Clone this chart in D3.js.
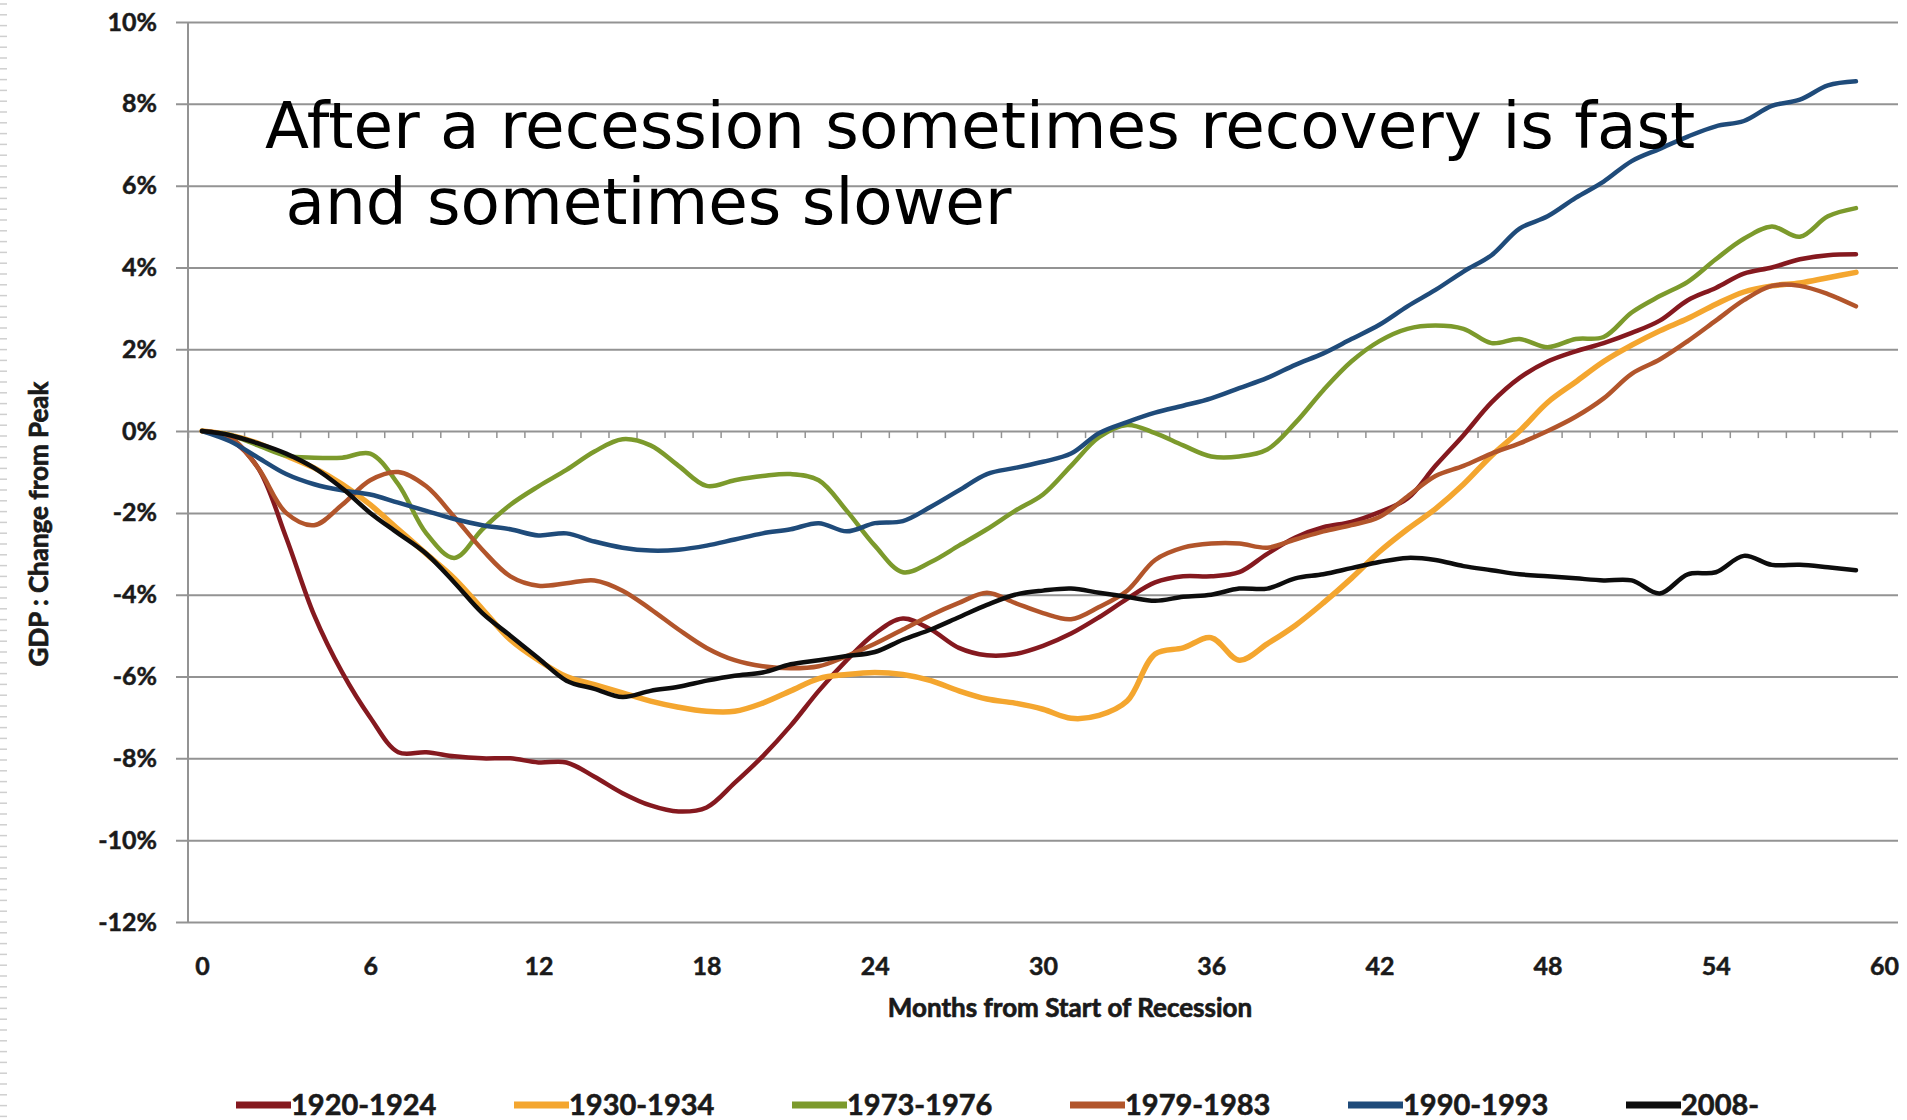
<!DOCTYPE html>
<html><head><meta charset="utf-8">
<script src="https://cdn.jsdelivr.net/npm/d3@7"></script>
<style>
body{margin:0;background:#fff;}
svg{display:block;}
</style></head><body>
<svg id="chart" width="1907" height="1120"></svg>
<script>
// ---------- DATA ----------
const months = d3.range(0, 60);
const seriesNames = ["1920-1924","1930-1934","1973-1976","1979-1983","1990-1993","2008-"];
const s1920 = [0,-0.2,-0.9,-2.6,-4.5,-5.9,-7.0,-7.85,-7.85,-7.95,
  -8.0,-8.0,-8.1,-8.1,-8.45,-8.85,-9.15,-9.3,-9.2,-8.6,
  -7.95,-7.2,-6.35,-5.6,-4.95,-4.58,-4.85,-5.3,-5.48,-5.45,
  -5.25,-4.95,-4.55,-4.1,-3.7,-3.55,-3.55,-3.45,-3.0,-2.6,
  -2.35,-2.22,-1.98,-1.65,-0.85,-0.1,0.7,1.3,1.7,1.95,
  2.15,2.4,2.7,3.2,3.5,3.85,4.0,4.2,4.3,4.32];
const s1930 = [0,-0.1,-0.3,-0.6,-0.9,-1.3,-1.8,-2.4,-3.0,-3.6,
  -4.35,-5.1,-5.6,-6.0,-6.2,-6.4,-6.6,-6.75,-6.85,-6.85,
  -6.65,-6.35,-6.05,-5.95,-5.9,-5.95,-6.1,-6.35,-6.55,-6.65,
  -6.8,-7.02,-6.95,-6.6,-5.45,-5.3,-5.05,-5.6,-5.2,-4.75,
  -4.2,-3.6,-2.95,-2.4,-1.9,-1.3,-0.6,0.0,0.7,1.2,
  1.7,2.1,2.45,2.75,3.1,3.4,3.55,3.62,3.75,3.88];
const s1973 = [0,-0.1,-0.35,-0.6,-0.65,-0.65,-0.55,-1.3,-2.5,-3.1,
  -2.4,-1.8,-1.35,-0.95,-0.5,-0.2,-0.35,-0.85,-1.34,-1.2,
  -1.1,-1.05,-1.2,-1.95,-2.8,-3.45,-3.2,-2.8,-2.4,-1.95,
  -1.55,-0.85,-0.15,0.15,-0.05,-0.35,-0.62,-0.62,-0.45,0.2,
  1.0,1.7,2.2,2.5,2.58,2.5,2.15,2.25,2.05,2.25,
  2.3,2.9,3.3,3.65,4.2,4.7,5.0,4.75,5.25,5.45];
const s1979 = [0,-0.15,-0.9,-2.0,-2.3,-1.8,-1.2,-1.0,-1.35,-2.1,
  -2.9,-3.55,-3.78,-3.72,-3.65,-3.9,-4.35,-4.85,-5.3,-5.6,
  -5.75,-5.8,-5.75,-5.5,-5.2,-4.85,-4.5,-4.2,-3.95,-4.2,
  -4.45,-4.6,-4.3,-3.9,-3.15,-2.85,-2.75,-2.75,-2.85,-2.65,
  -2.45,-2.3,-2.1,-1.6,-1.1,-0.85,-0.55,-0.3,0.0,0.35,
  0.8,1.4,1.75,2.2,2.7,3.2,3.55,3.55,3.35,3.05];
const s1990 = [0,-0.25,-0.65,-1.05,-1.3,-1.45,-1.55,-1.75,-1.95,-2.15,
  -2.3,-2.4,-2.55,-2.5,-2.7,-2.85,-2.92,-2.9,-2.8,-2.65,
  -2.5,-2.4,-2.25,-2.45,-2.25,-2.2,-1.85,-1.45,-1.05,-0.9,
  -0.75,-0.55,-0.05,0.22,0.45,0.62,0.8,1.05,1.3,1.62,
  1.9,2.25,2.6,3.05,3.45,3.9,4.3,4.95,5.25,5.7,
  6.1,6.6,6.9,7.2,7.45,7.58,7.95,8.1,8.45,8.55];
const s2008 = [0,-0.1,-0.3,-0.55,-0.9,-1.4,-2.0,-2.5,-3.0,-3.7,
  -4.45,-5.0,-5.55,-6.1,-6.3,-6.5,-6.35,-6.25,-6.1,-5.98,
  -5.9,-5.7,-5.6,-5.5,-5.4,-5.1,-4.85,-4.55,-4.25,-4.0,
  -3.9,-3.85,-3.95,-4.05,-4.15,-4.05,-4.0,-3.85,-3.85,-3.6,
  -3.5,-3.35,-3.2,-3.1,-3.15,-3.3,-3.4,-3.5,-3.55,-3.6,
  -3.65,-3.65,-3.97,-3.5,-3.45,-3.05,-3.27,-3.27,-3.33,-3.4];
const seriesValues = [s1920, s1930, s1973, s1979, s1990, s2008];
const seriesColors = ["#85191f","#f4a62f","#7c9a2c","#b2552b","#1f4b7a","#0d0d0d"];
const yTickValues = [-12,-10,-8,-6,-4,-2,0,2,4,6,8,10];
const xTickValues = [0,6,12,18,24,30,36,42,48,54,60];
const xTitle = "Months from Start of Recession";
const yTitle = "GDP : Change from Peak";
const noteLines = ["After a recession sometimes recovery is fast", " and sometimes slower"];

// ---------- LAYOUT ----------
const svg = d3.select("#chart");
const W = 1907, H = 1120;
const plotL = 188, plotR = 1898, plotT = 22, plotB = 922;
const x = d3.scaleLinear().domain([-0.5, 60.5]).range([plotL, plotR]);
const y = d3.scaleLinear().domain([-12, 10]).range([plotB, plotT]);
const FONT = "Lato, 'Open Sans', sans-serif";
const gridColor = "#939393";
const textColor = "#1a1a1a";

svg.append("rect").attr("width", W).attr("height", H).attr("fill", "#fff");

// left slide border (dashes)
const dash = svg.append("g").attr("stroke", "#cfcfcf").attr("stroke-width", 1.5);
d3.range(4, H, 10.8).forEach(v => {
  dash.append("line").attr("x1", 0).attr("x2", 7).attr("y1", v).attr("y2", v);
});

// gridlines + y labels
const gy = svg.append("g").attr("transform", `translate(176,0)`)
  .call(d3.axisLeft(y).tickValues(yTickValues).tickSize(-(plotR - 176)).tickPadding(19)
    .tickFormat(d => d + "%"));
gy.select(".domain").remove();
gy.selectAll(".tick line").attr("stroke", gridColor).attr("stroke-width", 2);
gy.selectAll(".tick text").attr("font-family", FONT).attr("font-weight", 700)
  .attr("font-size", 25).attr("fill", textColor)
  .attr("stroke", textColor).attr("stroke-width", 0.5);

// y axis line
svg.append("line").attr("x1", plotL).attr("x2", plotL).attr("y1", plotT).attr("y2", plotB)
  .attr("stroke", gridColor).attr("stroke-width", 2);

// minor category ticks on the 0% axis
const gt = svg.append("g").attr("transform", `translate(0,${y(0)})`)
  .call(d3.axisBottom(x).tickValues(d3.range(0, 61).map(k => k - 0.5)).tickSize(7).tickFormat(""));
gt.select(".domain").remove();
gt.selectAll(".tick line").attr("stroke", gridColor).attr("stroke-width", 1.5);

// x labels
const gx = svg.append("g").attr("transform", `translate(0,${plotB})`)
  .call(d3.axisBottom(x).tickValues(xTickValues).tickSize(0).tickPadding(35));
gx.select(".domain").remove();
gx.selectAll(".tick text").attr("font-family", FONT).attr("font-weight", 700)
  .attr("font-size", 25).attr("fill", textColor)
  .attr("stroke", textColor).attr("stroke-width", 0.5);

// axis titles
svg.append("text").attr("x", 1070).attr("y", 1017).attr("text-anchor", "middle")
  .attr("font-family", FONT).attr("font-weight", 700).attr("font-size", 26)
  .attr("fill", textColor).attr("stroke", textColor).attr("stroke-width", 0.7).text(xTitle);
svg.append("text").attr("transform", "translate(48,524) rotate(-90)").attr("text-anchor", "middle")
  .attr("font-family", FONT).attr("font-weight", 700).attr("font-size", 26)
  .attr("fill", textColor).attr("stroke", textColor).attr("stroke-width", 0.7).text(yTitle);

// series lines
const line = d3.line().x((d, i) => x(months[i])).y(d => y(d)).curve(d3.curveCatmullRom.alpha(0.5));
seriesValues.forEach((vals, i) => {
  svg.append("path").datum(vals).attr("d", line).attr("fill", "none")
    .attr("stroke", seriesColors[i]).attr("stroke-width", i === 1 ? 5.5 : 4.5)
    .attr("stroke-linejoin", "round").attr("stroke-linecap", "round");
});

// annotation
svg.append("text").attr("x", 265).attr("y", 148).attr("font-family", "'DejaVu Sans', sans-serif")
  .attr("font-size", 64.4).attr("fill", "#000").text(noteLines[0]);
svg.append("text").attr("x", 265).attr("y", 224).attr("font-family", "'DejaVu Sans', sans-serif")
  .attr("font-size", 64.4).attr("fill", "#000").attr("xml:space", "preserve")
  .style("white-space", "pre").text(noteLines[1]);

// legend
const lg = svg.append("g");
seriesNames.forEach((name, i) => {
  const g = lg.append("g").attr("transform", `translate(${236 + i * 278},0)`);
  g.append("line").attr("x1", 0).attr("x2", 55).attr("y1", 1105).attr("y2", 1105)
    .attr("stroke", seriesColors[i]).attr("stroke-width", 7);
  g.append("text").attr("x", 55).attr("y", 1115).attr("font-family", FONT).attr("font-weight", 700)
    .attr("font-size", 29).attr("fill", textColor)
    .attr("stroke", textColor).attr("stroke-width", 0.6).text(name);
});
</script>
</body></html>
